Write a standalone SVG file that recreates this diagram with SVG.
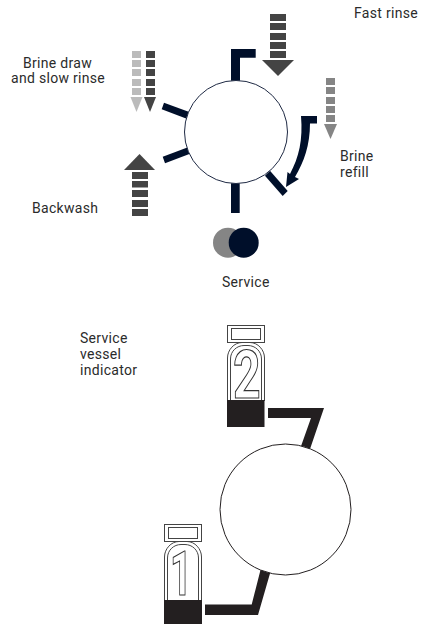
<svg xmlns="http://www.w3.org/2000/svg" width="424" height="624" viewBox="0 0 424 624">
<style>
text{font-family:Roboto,"Liberation Sans",Arial,sans-serif;font-size:14px;letter-spacing:.3px;fill:#2b2b2b}
.ring{fill:#fff;stroke:#1f2a44;stroke-width:1}
.ring2{fill:#fff;stroke:#231f20;stroke-width:1}
.stub{fill:#000f2a}
.dk{fill:#444}.lt{fill:#bbb}.md{fill:#858585}
.ol{fill:none;stroke:#444;stroke-width:1}
.blk{fill:#231f20}
text.num{font-family:Roboto,"Liberation Sans",Arial,sans-serif;font-weight:700;letter-spacing:0;fill:#fff;stroke:#333;stroke-width:1.200}
</style>
<g id="connectors">
<polygon class="stub" points="231,85 231,49 255.700,49 255.700,57.700 240,57.700 240,85"/>
<polygon class="stub" points="164,102.700 192,113 190,120 161.700,109.300"/>
<polygon class="stub" points="162.700,156.700 190,146.500 192,153 165,163.300"/>
<rect class="stub" x="231" y="180" width="8.700" height="33"/>
<polygon class="stub" points="270,170.700 287.700,191 282.700,196 265,175.700" transform="translate(0,0)"/>
<path class="stub" d="M301,116H317V123.500H310C310,145 304,162 295,177L299,179L286,187L287.500,172L290,174C299,157 303,140 301,116Z"/>
<polygon class="blk" points="268,408 324,408 309,452 300,449 311,418 268,418"/>
<polygon class="blk" points="205,604.500 251.700,604.500 261,568 271,570 258,615 205,615"/>
</g>
<g id="valve-circle"><circle class="ring" cx="236" cy="132" r="51.500"/></g>
<g id="vessel-circle"><circle class="ring2" cx="285.500" cy="509.500" r="65.500"/></g>
<g id="fast-rinse-arrow">
<g class="dk"><rect x="270" y="14" width="16" height="7"/><rect x="270" y="23" width="16" height="7"/><rect x="270" y="33" width="16" height="7"/><rect x="270" y="42" width="16" height="7"/><rect x="270" y="51" width="16" height="7"/><polygon points="262,60 294,60 278,76"/></g>
<text x="354" y="18">Fast rinse</text>
</g>
<g id="brine-draw-arrows">
<g class="lt"><rect x="132" y="51" width="9" height="7"/><rect x="132" y="60" width="9" height="7"/><rect x="132" y="69" width="9" height="7"/><rect x="132" y="79" width="9" height="7"/><rect x="132" y="88" width="9" height="7"/><polygon points="130.500,97 142.500,97 136.500,112"/></g>
<g class="dk"><rect x="146" y="51" width="9" height="7"/><rect x="146" y="60" width="9" height="7"/><rect x="146" y="69" width="9" height="7"/><rect x="146" y="79" width="9" height="7"/><rect x="146" y="88" width="9" height="7"/><polygon points="144,97 156,97 150,112"/></g>
<text x="23" y="68">Brine draw</text>
<text x="11" y="83">and slow rinse</text>
</g>
<g id="brine-refill-arrow">
<g class="md"><rect x="326" y="78" width="9" height="7"/><rect x="326" y="87" width="9" height="7"/><rect x="326" y="97" width="9" height="7"/><rect x="326" y="106" width="9" height="7"/><rect x="326" y="115" width="9" height="7"/><polygon points="324,124 337,124 330.500,139"/></g>
<text x="340" y="161">Brine</text>
<text x="340" y="177">refill</text>
</g>
<g id="backwash-arrow">
<g class="dk"><polygon points="124,170 155,170 139.500,154"/><rect x="132" y="172" width="16" height="7"/><rect x="132" y="181" width="16" height="6.500"/><rect x="132" y="190" width="16" height="7"/><rect x="132" y="200" width="16" height="7"/><rect x="132" y="209" width="16" height="7"/></g>
<text x="32" y="213">Backwash</text>
</g>
<g id="service">
<circle cx="228" cy="242.700" r="15" class="md"/>
<circle cx="243.700" cy="242.700" r="15" class="stub"/>
<text x="222" y="287">Service</text>
</g>
<g id="indicator-label"><text x="80" y="343">Service</text><text x="80" y="359">vessel</text><text x="80" y="375">indicator</text></g>
<defs>
<g id="bottle">
<rect class="ol" x="164.500" y="524.500" width="37" height="17"/>
<rect class="ol" x="168.500" y="527.500" width="29" height="11"/>
<path class="ol" d="M164.500,600V557C164.500,549 171,541.500 179,541.500H187C195,541.500 201.500,549 201.500,557V600"/>
<path class="ol" d="M167.500,600V558C167.500,550 174,544.500 181,544.500H185C192,544.500 198.500,550 198.500,558V600"/>
</g>
</defs>
<g id="indicator-2">
<use href="#bottle" transform="translate(63,-199)"/>
<text class="num" transform="translate(233,398) scale(.72,1)" style="font-size:67px">2</text>
<rect class="blk" x="227" y="400" width="37.500" height="27"/>
</g>
<g id="indicator-1">
<use href="#bottle"/>
<text class="num" transform="translate(170,595) scale(.62,1)" style="font-size:62px">1</text>
<rect class="blk" x="164" y="600" width="38" height="24"/>
</g>
</svg>
